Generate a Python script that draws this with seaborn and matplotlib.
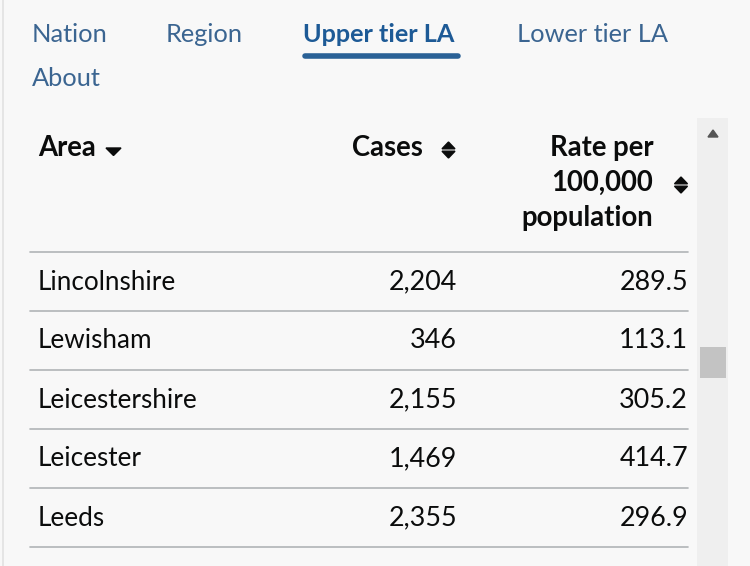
import matplotlib
matplotlib.use("Agg")
import matplotlib.pyplot as plt
import seaborn as sns

# Table data
tabs = ["Nation", "Region", "Upper tier LA", "Lower tier LA", "About"]
active_tab = "Upper tier LA"
areas = ["Lincolnshire", "Lewisham", "Leicestershire", "Leicester", "Leeds"]
cases = [2204, 346, 2155, 1469, 2355]
rates = [289.5, 113.1, 305.2, 414.7, 296.9]
headers = ["Area", "Cases", "Rate per\n100,000\npopulation"]

sns.set_theme(style="white")
plt.rcParams["font.family"] = ["Lato", "DejaVu Sans"]

bg = "#f8f8f8"
link = "#3b6591"
fig = plt.figure(figsize=(7.5, 5.66), dpi=100, facecolor=bg)
ax = fig.add_axes([0, 0, 1, 1])
ax.set_facecolor(bg)
ax.set_xlim(0, 750)
ax.set_ylim(566, 0)
ax.axis("off")

# left border
ax.plot([3, 3], [0, 566], color="#e2e2e2", lw=1.2)

# navigation tabs
tab_x = [32, 166, 303, 517, 32]
tab_y = [34, 34, 34, 34, 78]
for name, x, y in zip(tabs, tab_x, tab_y):
    bold = name == active_tab
    ax.text(x, y, name, fontsize=18.3 if not bold else 18.2,
            color="#1d5a96" if bold else link,
            fontweight="bold" if bold else "normal", va="center", ha="left")
    if bold:
        ax.plot([305, 458], [56, 56], color="#2a6196", lw=4, solid_capstyle="round")

# scrollbar
ax.add_patch(plt.Rectangle((697, 118), 31, 448, color="#efefef", lw=0))
ax.fill([708, 718, 713], [137, 137, 130], color="#555555")
ax.add_patch(plt.Rectangle((700, 347), 26, 31, color="#c3c3c3", lw=0))

# header
hdr_font = dict(fontsize=19.8, fontweight="bold", color="#0b0c0c", va="center")
ax.text(38, 148, headers[0], ha="left", **hdr_font)
ax.fill([106, 121, 113.5], [148, 148, 155.5], color="#0b0c0c")
ax.text(423, 148, headers[1], ha="right", **hdr_font)
for k, line in enumerate(headers[2].split("\n")):
    ax.text(653, 148 + 35 * k, line, ha="right", **hdr_font)


def sort_icon(x, y):
    ax.fill([x - 6.5, x + 6.5, x], [y - 1.2, y - 1.2, y - 8], color="#0b0c0c")
    ax.fill([x - 6.5, x + 6.5, x], [y + 1.2, y + 1.2, y + 8], color="#0b0c0c")


sort_icon(448.5, 150)
sort_icon(681, 185)

# rows
row_h = 59
ax.plot([30, 688], [252, 252], color="#b1b4b6", lw=1.2)
for i, (a, c, r) in enumerate(zip(areas, cases, rates)):
    yc = 282 + i * row_h
    ax.text(38, yc, a, fontsize=18.8, color="#0b0c0c", ha="left", va="center")
    ax.text(457, yc, f"{c:,}", fontsize=19.4, color="#0b0c0c", ha="right", va="center")
    ax.text(688, yc, f"{r:.1f}", fontsize=19.4, color="#0b0c0c", ha="right", va="center")
    ax.plot([30, 688], [252 + (i + 1) * row_h] * 2, color="#b1b4b6", lw=1.2)

fig.savefig("out.png", dpi=100, facecolor=bg)
